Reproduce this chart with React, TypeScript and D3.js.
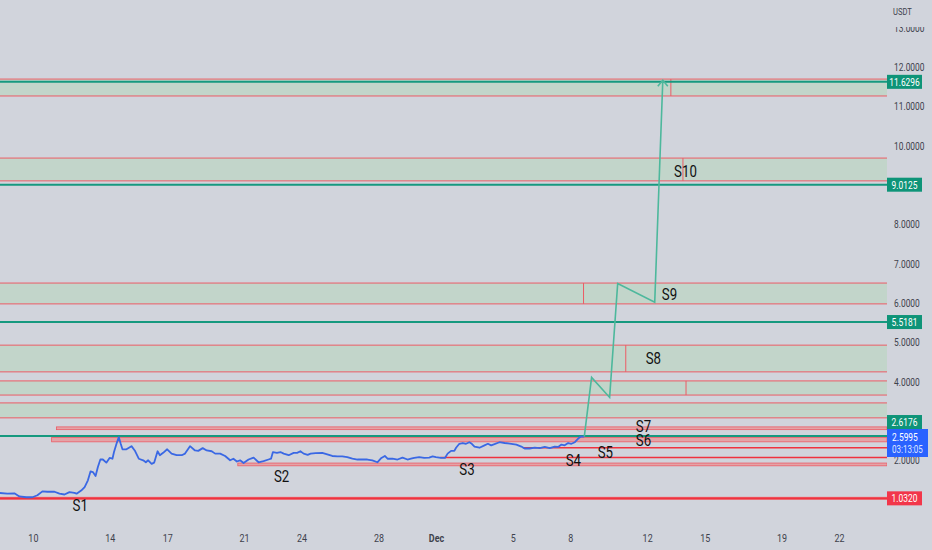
import React from "react";
import * as d3 from "d3";

const W = 932;
const H = 550;
const PLOT_R = 887;
const PLOT_B = 520;

// Days counted from Nov 0, 2023 (Dec 1 = 31)
const priceTimes = [8.22,8.64,9.01,9.27,9.63,9.95,10.21,10.47,10.73,11.10,11.36,11.62,11.88,12.14,12.25,12.49,12.67,12.84,12.98,13.10,13.24,13.36,13.49,13.62,13.80,13.97,14.12,14.20,14.33,14.45,14.55,14.64,14.85,15.11,15.28,15.49,15.72,15.86,15.98,16.16,16.29,16.47,16.59,16.76,16.97,17.20,17.46,17.73,17.90,18.16,18.42,18.59,18.82,19.03,19.29,19.47,19.73,19.99,20.25,20.42,20.60,20.77,20.95,21.21,21.47,21.73,21.99,22.25,22.38,22.48,22.69,22.87,23.04,23.30,23.56,23.74,23.91,24.08,24.29,24.44,24.70,25.05,25.31,25.57,25.83,26.09,26.35,26.62,26.88,27.14,27.40,27.66,27.92,28.13,28.31,28.45,28.71,28.97,29.23,29.49,29.67,29.84,30.10,30.36,30.62,30.80,30.97,31.23,31.44,31.58,31.76,31.93,32.02,32.19,32.37,32.54,32.71,32.84,32.98,33.24,33.50,33.68,33.85,34.02,34.28,34.55,34.90,35.16,35.42,35.59,35.85,36.12,36.38,36.64,36.90,37.16,37.34,37.51,37.68,37.86,38.03,38.21,38.38,38.50,38.70];
const priceValues = [1.17,1.15,1.16,1.08,1.06,1.06,1.11,1.21,1.20,1.20,1.15,1.13,1.19,1.17,1.15,1.23,1.32,1.49,1.72,1.70,1.60,1.83,2.02,2.02,1.94,2.06,2.04,2.21,2.42,2.59,2.42,2.28,2.28,2.36,2.25,2.04,2.00,1.95,2.00,1.91,1.94,2.23,2.13,2.19,2.28,2.17,2.13,2.13,2.17,2.36,2.25,2.24,2.31,2.25,2.23,2.17,2.17,2.11,2.00,2.04,1.97,2.00,1.93,2.02,2.07,1.95,1.98,2.02,2.04,2.21,2.19,2.21,2.17,2.13,2.19,2.19,2.23,2.17,2.14,2.17,2.18,2.19,2.15,2.11,2.10,2.10,2.08,2.04,2.02,2.02,2.02,2.00,1.95,2.06,2.11,2.04,2.04,2.02,2.07,2.02,2.04,2.06,2.08,2.06,2.07,2.10,2.08,2.06,2.06,2.17,2.24,2.24,2.32,2.42,2.44,2.42,2.46,2.42,2.35,2.32,2.38,2.42,2.38,2.41,2.46,2.44,2.42,2.40,2.35,2.30,2.30,2.32,2.31,2.34,2.31,2.35,2.34,2.40,2.38,2.44,2.42,2.46,2.55,2.60,2.60];

const pathTimes = [38.70, 39.08, 40.02, 40.44, 42.37, 42.79];
const pathValues = [2.60, 4.11, 3.60, 6.50, 6.02, 11.67];

const zoneTops = [11.70, 9.69, 6.51, 4.93, 4.02, 3.46];
const zoneBottoms = [11.27, 9.11, 5.98, 4.25, 3.66, 3.08];
const zoneDividers = [43.21, 43.84, 38.66, 40.86, 44.0, null];

const bandTops = [2.85, 2.58, 1.93];
const bandBottoms = [2.78, 2.47, 1.86];
const bandStarts = [11.2, 10.95, 20.65];

const redLineValues = [2.32, 2.07];
const redLineStarts = [35.5, 31.2];

const supportBandTop = 1.075;
const supportBandBottom = 0.99;
const supportValue = 1.032;

const tealLineValues = [11.6296, 9.0125, 5.5181, 2.6176];

const labelNames = ["S1","S2","S3","S4","S5","S6","S7","S8","S9","S10"];
const labelTimes = [12.44, 22.93, 32.59, 38.13, 39.80, 41.78, 41.78, 42.30, 43.14, 43.97];
const labelValues = [0.84, 1.60, 1.78, 2.0, 2.21, 2.51, 2.87, 4.60, 6.23, 9.34];

const xTickDays = [10, 14, 17, 21, 24, 28, 31, 35, 38, 42, 45, 49, 52];
const xTickLabels = ["10","14","17","21","24","28","Dec","5","8","12","15","19","22"];

const yTickValues = [2, 4, 5, 6, 7, 8, 10, 11, 12, 13];

const toDate = (t: number) => new Date(Date.UTC(2023, 10, 1) + (t - 1) * 864e5);

const BG = "#d1d4dc";
const ZONE = "#c2d5ca";
const RED = "#ec5c66";
const RED_STRONG = "#f0323f";
const PINK = "#e4a3a7";
const TEAL = "#16997f";
const ARROW = "#4db89c";
const BLUE = "#3a68e4";
const FONT = "'Roboto', 'Liberation Sans', sans-serif";

type NTProps = {
  x: number; y: number; size: number; fill: string; anchor?: "start" | "middle" | "end";
  sx?: number; weight?: string; children: React.ReactNode;
};
function NarrowText({ x, y, size, fill, anchor = "start", sx = 0.8, weight = "normal", children }: NTProps) {
  return (
    <text transform={`translate(${x},${y}) scale(${sx},1)`} textAnchor={anchor} dominantBaseline="central" fontSize={size} fill={fill} fontWeight={weight}>
      {children}
    </text>
  );
}

export default function App() {
  const x = d3.scaleUtc().domain([toDate(8.261), toDate(54.47)]).range([0, PLOT_R]);
  const y = d3.scaleLinear().domain([0.481, 13.712]).range([PLOT_B, 0]);
  const xt = (t: number) => x(toDate(t));

  const line = d3.line<[number, number]>().x((d) => xt(d[0])).y((d) => y(d[1]));
  const pricePts: [number, number][] = priceTimes.map((t, i) => [t, priceValues[i]]);
  const pathPts: [number, number][] = pathTimes.map((t, i) => [t, pathValues[i]]);
  const tipX = xt(pathTimes[pathTimes.length - 1]);
  const tipY = y(pathValues[pathValues.length - 1]);

  const boxes = [
    { v: 11.6296, text: "11.6296", fill: "#0e9478", dy: 0 },
    { v: 9.0125, text: "9.0125", fill: "#0e9478", dy: 0 },
    { v: 5.5181, text: "5.5181", fill: "#0e9478", dy: 0 },
    { v: 2.6176, text: "2.6176", fill: "#0e9478", dy: -14 },
    { v: 1.032, text: "1.0320", fill: "#f2364a", dy: 0 },
  ];

  return (
    <svg width={W} height={H} style={{ position: "fixed", left: 0, top: 0, display: "block" }} fontFamily={FONT}>
      <defs>
        <clipPath id="plotClip">
          <rect x={0} y={0} width={PLOT_R} height={PLOT_B} />
        </clipPath>
        <clipPath id="axisClip">
          <rect x={PLOT_R} y={27} width={W - PLOT_R} height={H - 27} />
        </clipPath>
      </defs>
      <rect x={0} y={0} width={W} height={H} fill={BG} />

      <g clipPath="url(#plotClip)">
        {zoneTops.map((top, i) => (
          <g key={"z" + i}>
            <rect x={0} y={y(top)} width={PLOT_R} height={y(zoneBottoms[i]) - y(top)} fill={ZONE} />
            <line x1={0} x2={PLOT_R} y1={y(top)} y2={y(top)} stroke={RED} strokeWidth={1} />
            <line x1={0} x2={PLOT_R} y1={y(zoneBottoms[i])} y2={y(zoneBottoms[i])} stroke={RED} strokeWidth={1} />
            {zoneDividers[i] != null && (
              <line x1={xt(zoneDividers[i] as number)} x2={xt(zoneDividers[i] as number)} y1={y(top)} y2={y(zoneBottoms[i])} stroke={RED} strokeWidth={1} />
            )}
          </g>
        ))}

        {bandTops.map((top, i) => (
          <rect key={"b" + i} x={xt(bandStarts[i])} y={y(top)} width={PLOT_R - xt(bandStarts[i])} height={y(bandBottoms[i]) - y(top)} fill={PINK} stroke={RED} strokeWidth={0.8} />
        ))}

        {redLineValues.map((v, i) => (
          <line key={"r" + i} x1={xt(redLineStarts[i])} x2={PLOT_R} y1={y(v)} y2={y(v)} stroke={RED_STRONG} strokeWidth={1.5} />
        ))}

        <rect x={0} y={y(supportBandTop)} width={PLOT_R} height={y(supportBandBottom) - y(supportBandTop)} fill={PINK} />
        <line x1={0} x2={PLOT_R} y1={y(supportValue)} y2={y(supportValue)} stroke={RED_STRONG} strokeWidth={2.2} />

        {tealLineValues.map((v, i) => (
          <line key={"t" + i} x1={0} x2={PLOT_R} y1={y(v)} y2={y(v)} stroke={TEAL} strokeWidth={2} />
        ))}

        <path d={line(pricePts) || ""} fill="none" stroke={BLUE} strokeWidth={1.8} strokeLinejoin="round" />
        <path d={line(pathPts) || ""} fill="none" stroke={ARROW} strokeWidth={1.6} strokeLinejoin="miter" />
        <path d={`M${tipX - 5},${tipY + 6} L${tipX},${tipY} L${tipX + 5},${tipY + 6}`} fill="none" stroke={ARROW} strokeWidth={1.6} />

        {labelNames.map((n, i) => (
          <NarrowText key={n} x={xt(labelTimes[i])} y={y(labelValues[i])} anchor="middle" size={17} fill="#111" sx={0.78}>
            {n}
          </NarrowText>
        ))}
      </g>

      {/* x axis */}
      {xTickDays.map((d, i) => (
        <NarrowText key={"xt" + i} x={xt(d)} y={538} anchor="middle" size={10.5} fill="#3e424c" sx={0.85} weight={xTickLabels[i] === "Dec" ? "bold" : "normal"}>
          {xTickLabels[i]}
        </NarrowText>
      ))}

      {/* y axis */}
      <NarrowText x={893} y={12} size={9.5} fill="#3e424c" sx={0.8}>USDT</NarrowText>
      <g clipPath="url(#axisClip)">
        {yTickValues.map((v) => (
          <NarrowText key={"yt" + v} x={894} y={y(v)} size={10.5} fill="#3e424c" sx={0.8}>
            {v.toFixed(4)}
          </NarrowText>
        ))}
      </g>

      {boxes.map((b) => {
        const cy = y(b.v) + b.dy;
        return (
          <g key={b.text}>
            <rect x={PLOT_R} y={cy - 7} width={35} height={14} fill={b.fill} />
            <NarrowText x={PLOT_R + 17.5} y={cy} anchor="middle" size={10.5} fill="#fff" sx={0.8}>
              {b.text}
            </NarrowText>
          </g>
        );
      })}

      <g>
        <rect x={PLOT_R} y={429} width={41} height={28} fill="#2962ff" />
        <NarrowText x={PLOT_R + 5} y={437} size={10.5} fill="#fff" sx={0.8}>2.5995</NarrowText>
        <NarrowText x={PLOT_R + 5} y={450} size={10} fill="#dfe6ff" sx={0.8}>03:13:05</NarrowText>
      </g>
    </svg>
  );
}
